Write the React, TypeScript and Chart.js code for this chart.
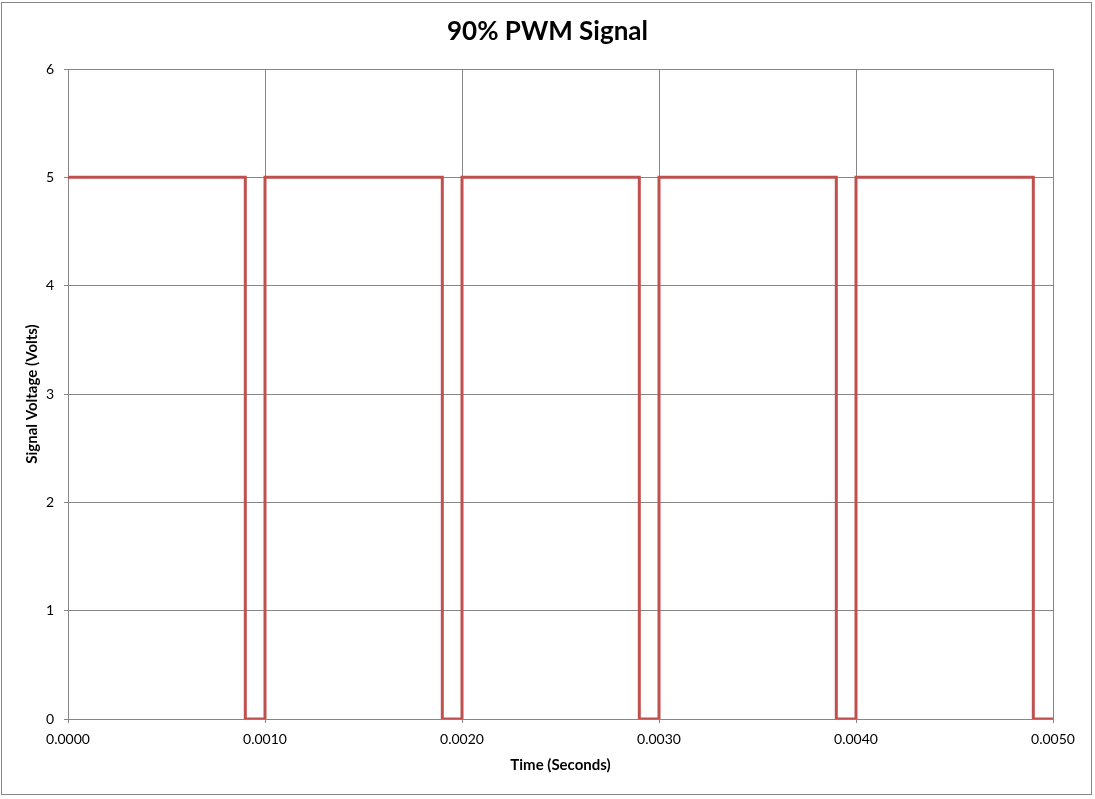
import React, { useEffect, useRef } from "react";
import { Chart, registerables } from "chart.js";

Chart.register(...registerables);

const chartTitle = "90% PWM Signal";
const xAxisTitle = "Time (Seconds)";
const yAxisTitle = "Signal Voltage (Volts)";

// PWM waveform vertices (time in seconds, voltage in volts)
const timeValues = [
  0, 0.0009, 0.0009, 0.001, 0.001, 0.0019, 0.0019, 0.002, 0.002, 0.0029,
  0.0029, 0.003, 0.003, 0.0039, 0.0039, 0.004, 0.004, 0.0049, 0.0049, 0.005,
];
const voltValues = [5, 5, 0, 0, 5, 5, 0, 0, 5, 5, 0, 0, 5, 5, 0, 0, 5, 5, 0, 0];

const xMin = 0;
const xMax = 0.005;
const xStep = 0.001;
const yMin = 0;
const yMax = 6;
const yStep = 1;

const FONT = "Lato, 'Open Sans', sans-serif";
const GRID = "#868686";
const RED = "#C0504D";

export default function App() {
  const canvasRef = useRef<HTMLCanvasElement | null>(null);

  useEffect(() => {
    if (!canvasRef.current) return;
    const points = timeValues.map((t, i) => ({ x: t, y: voltValues[i] }));
    const chart = new Chart(canvasRef.current, {
      type: "scatter",
      data: {
        datasets: [
          {
            data: points,
            showLine: true,
            borderColor: RED,
            backgroundColor: RED,
            borderWidth: 3,
            pointRadius: 0,
            pointHoverRadius: 0,
            borderJoinStyle: "miter",
            borderCapStyle: "butt",
            tension: 0,
          },
        ],
      },
      options: {
        responsive: false,
        animation: false,
        events: [],
        layout: { padding: 0 },
        plugins: {
          legend: { display: false },
          tooltip: { enabled: false },
          title: {
            display: true,
            text: chartTitle,
            color: "#000000",
            font: { family: FONT, size: 26, weight: "bold" },
            padding: { top: 16, bottom: 21.8 },
          },
        },
        scales: {
          x: {
            type: "linear",
            min: xMin,
            max: xMax,
            afterFit: (scale: any) => {
              scale.height = 80;
            },
            ticks: {
              stepSize: xStep,
              color: "#000000",
              font: { family: FONT, size: 14 },
              padding: 8,
              maxRotation: 0,
              callback: (v: any) => Number(v).toFixed(4),
            },
            grid: { color: GRID, lineWidth: 1, tickLength: 4, drawTicks: true },
            border: { color: GRID, width: 1 },
            title: {
              display: true,
              text: xAxisTitle,
              color: "#000000",
              font: { family: FONT, size: 15, weight: "bold" },
              padding: { top: 0, bottom: 25 },
            },
          },
          y: {
            type: "linear",
            min: yMin,
            max: yMax,
            afterFit: (scale: any) => {
              scale.width = 68;
            },
            ticks: {
              stepSize: yStep,
              color: "#000000",
              font: { family: FONT, size: 14 },
              padding: 10,
            },
            grid: { color: GRID, lineWidth: 1, tickLength: 4, drawTicks: true },
            border: { color: GRID, width: 1 },
            title: {
              display: true,
              text: yAxisTitle,
              color: "#000000",
              font: { family: FONT, size: 15, weight: "bold" },
              padding: { top: 23, bottom: 0 },
            },
          },
          yRight: {
            type: "linear",
            position: "right",
            min: yMin,
            max: yMax,
            afterFit: (scale: any) => {
              scale.width = 42;
            },
            ticks: { display: false },
            grid: { display: false, drawOnChartArea: false, drawTicks: false },
            border: { display: false },
            title: { display: false },
          },
        },
      },
    });
    return () => chart.destroy();
  }, []);

  return (
    <div style={{ position: "absolute", left: 0, top: 0, width: 1095, height: 799, background: "#ffffff" }}>
      <canvas ref={canvasRef} width={1095} height={799} style={{ display: "block" }} />
      <div
        style={{
          position: "absolute",
          left: 1,
          top: 2,
          width: 1091,
          height: 793,
          boxSizing: "border-box",
          border: `1px solid ${GRID}`,
          pointerEvents: "none",
        }}
      />
    </div>
  );
}
